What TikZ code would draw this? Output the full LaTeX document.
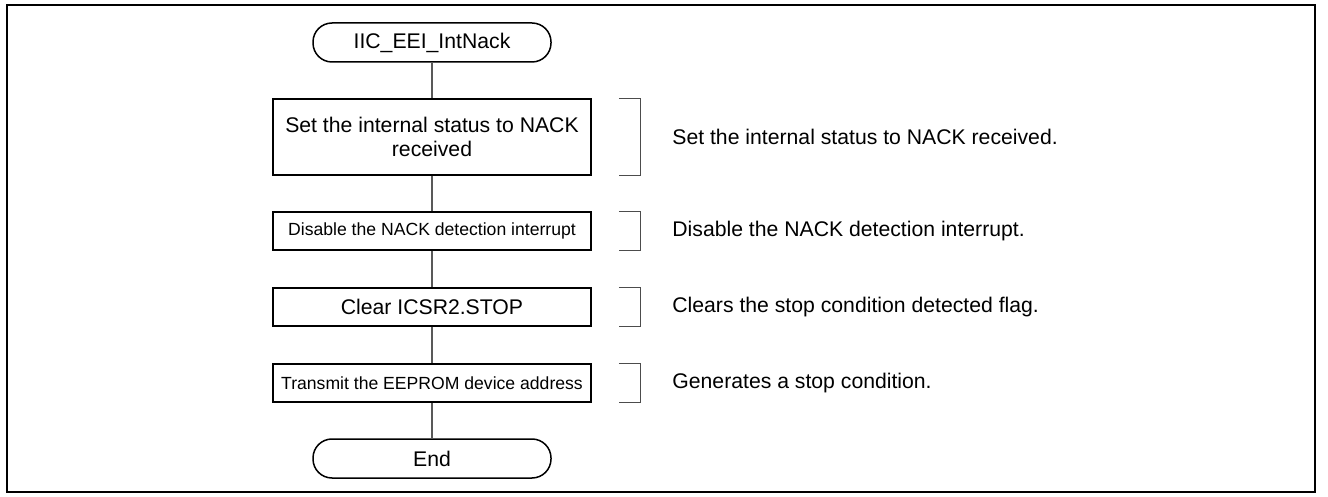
\documentclass[tikz,border=0pt]{standalone}
\usepackage{fontspec}
\setmainfont{Liberation Sans}
\usetikzlibrary{positioning}
\begin{document}
\begin{tikzpicture}[x=0.5pt,y=-0.5pt,
  bigtxt/.style={font=\fontsize{10.6pt}{12pt}\selectfont},
  smalltxt/.style={font=\fontsize{8.8pt}{10.5pt}\selectfont},
  proc/.style={draw=black,line width=0.75pt,fill=white,minimum width=159pt,inner sep=0pt,align=center},
  term/.style={draw=black,line width=0.75pt,fill=white,rounded corners=9.5pt,minimum width=119pt,minimum height=19.5pt,inner sep=0pt,bigtxt},
  conn/.style={draw=black!65,line width=0.6pt},
  brk/.style={draw=black!70,line width=0.55pt},
  note/.style={anchor=west,inner sep=0pt,bigtxt}
]
\useasboundingbox (0,0) rectangle (1328,497);
\draw[line width=1.1pt] (7,5) rectangle (1315,492);

\node[term] (start) at (432,42.5) {IIC\_EEI\_IntNack};
\node[proc,bigtxt,minimum height=38pt] (b1) at (432,137) {Set the internal status to NACK\\received};
\node[proc,smalltxt,minimum height=19pt] (b2) at (432,231) {Disable the NACK detection interrupt};
\node[proc,bigtxt,minimum height=19pt] (b3) at (432,307) {Clear ICSR2.STOP};
\node[proc,smalltxt,minimum height=19pt] (b4) at (432,383) {Transmit the EEPROM device address};
\node[term] (end) at (432,458.5) {End};

\draw[conn] (start) -- (b1);
\draw[conn] (b1) -- (b2);
\draw[conn] (b2) -- (b3);
\draw[conn] (b3) -- (b4);
\draw[conn] (b4) -- (end);

\foreach \b in {b1,b2,b3,b4}{
  \draw[brk] ([xshift=13.5pt]\b.north east) -- ++(22,0) |- ([xshift=13.5pt]\b.south east);
}

\node[note] (n1) at (672,137) {Set the internal status to NACK received.};
\node[note] (n2) at (672,231) {Disable the NACK detection interrupt.};
\node[note] (n3) at (672,307) {Clears the stop condition detected flag.};
\node[note] (n4) at (672,383) {Generates a stop condition.};
\end{tikzpicture}
\end{document}
